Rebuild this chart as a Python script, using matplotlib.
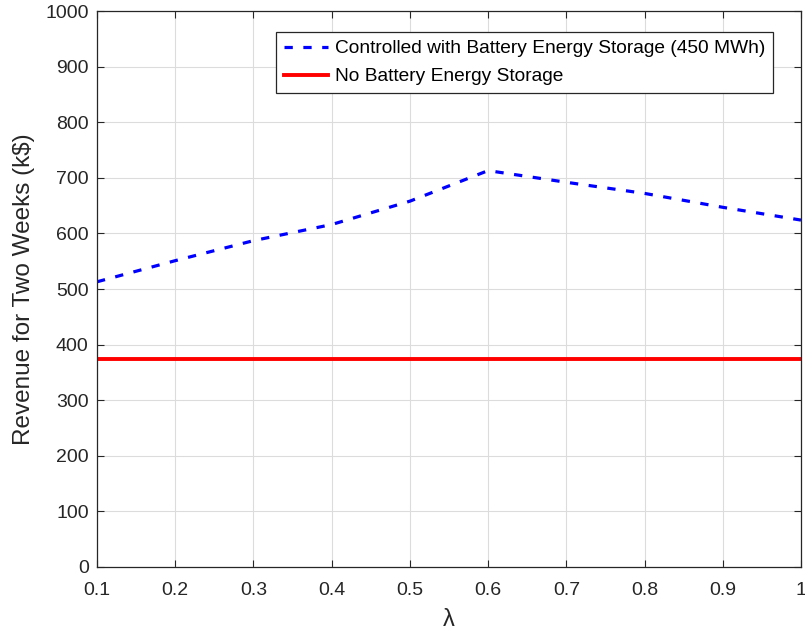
import numpy as np
import matplotlib
matplotlib.use('Agg')
import matplotlib.pyplot as plt

lam = [0.1, 0.2, 0.3, 0.4, 0.5, 0.6, 0.7, 0.8, 0.9, 1.0]
revenue_bes = [513, 551, 587, 616, 658, 713, 692, 672, 647, 624]
revenue_no_bes = 375

plt.rcParams['font.family'] = ['Liberation Sans', 'DejaVu Sans']

fig = plt.figure(figsize=(8.05, 6.39), dpi=100)
ax = fig.add_axes([0.1205, 0.1127, 0.8745, 0.870])

ax.plot(lam, revenue_bes, color='#0000ff', lw=2.3, linestyle=(0, (2.6, 3.3)),
        label='Controlled with Battery Energy Storage (450 MWh)')
ax.plot([lam[0], lam[-1]], [revenue_no_bes, revenue_no_bes], color='#ff0000', lw=2.8,
        label='No Battery Energy Storage')

ax.set_xlim(0.1, 1.0)
ax.set_ylim(0, 1000)
ax.set_xticks(np.arange(0.1, 1.01, 0.1))
ax.set_xticklabels(['0.1', '0.2', '0.3', '0.4', '0.5', '0.6', '0.7', '0.8', '0.9', '1'])
ax.set_yticks(np.arange(0, 1001, 100))

ax.grid(True, color='#dcdcdc', lw=0.8)
ax.set_axisbelow(True)
for s in ax.spines.values():
    s.set_color('#262626')
    s.set_linewidth(0.9)
ax.tick_params(direction='in', top=True, right=True, length=5, width=0.8,
               labelsize=14, colors='#262626')
ax.tick_params(axis='x', pad=11)
ax.tick_params(axis='y', pad=6)

ax.set_xlabel('\u03bb', fontsize=17, color='#262626', labelpad=7)
ax.set_ylabel('Revenue for Two Weeks (k$)', fontsize=17.5, color='#262626', labelpad=7)

leg = ax.legend(loc='upper right', bbox_to_anchor=(0.96, 0.962), fontsize=13.8,
                fancybox=False, framealpha=1, edgecolor='#262626',
                handlelength=2.3, borderpad=0.4, labelspacing=0.55, handletextpad=0.35,
                borderaxespad=0)
leg.get_frame().set_linewidth(0.9)

plt.savefig('out.png', dpi=100)
